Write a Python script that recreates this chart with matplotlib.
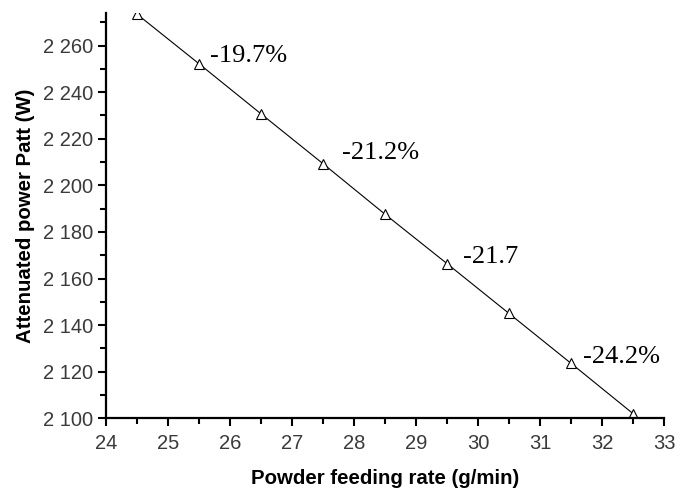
import numpy as np
import matplotlib.pyplot as plt
from matplotlib.ticker import MultipleLocator, FuncFormatter

# data
feed_rate = [24.5, 25.5, 26.5, 27.5, 28.5, 29.5, 30.5, 31.5, 32.5]
power = [2273.5, 2252.2, 2230.7, 2209.3, 2187.6, 2166.4, 2145.0, 2123.6, 2102.0]

labels = ['-19.7%', '-21.2%', '-21.7', '-24.2%']
label_x = [25.68, 27.81, 29.76, 31.69]
label_y = [2255.7, 2214.1, 2169.1, 2126.3]

fig = plt.figure(figsize=(6.91, 4.90), dpi=100)
ax = fig.add_axes([0.1534, 0.1463, 0.8076, 0.8272])

ax.plot(feed_rate, power, color='black', lw=0.8, marker='^', ms=6.5,
        mfc='white', mec='black', mew=0.8)

for t, x, y in zip(labels, label_x, label_y):
    ax.text(x, y, t, fontsize=19, family='Liberation Serif', va='center', ha='left')

ax.set_xlim(24, 33)
ax.set_ylim(2100, 2274)
ax.xaxis.set_major_locator(MultipleLocator(1))
ax.xaxis.set_minor_locator(MultipleLocator(0.5))
ax.yaxis.set_major_locator(MultipleLocator(20))
ax.yaxis.set_minor_locator(MultipleLocator(10))
ax.yaxis.set_major_formatter(FuncFormatter(lambda v, p: f'{int(v):,}'.replace(',', ' ')))

for s in ['top', 'right']:
    ax.spines[s].set_visible(False)
for s in ['left', 'bottom']:
    ax.spines[s].set_linewidth(1.6)

ax.tick_params(which='major', length=6, width=1.5, labelsize=14.5, labelcolor='#3a3a3a', pad=3)
ax.tick_params(which='minor', length=4, width=1.5)
ax.tick_params(axis='x', which='major', pad=5)
for lab in ax.get_xticklabels() + ax.get_yticklabels():
    lab.set_family('Liberation Sans')

ax.set_xlabel('Powder feeding rate (g/min)', fontsize=14.7, fontweight='bold',
              family='Liberation Sans', labelpad=12)
ax.set_ylabel('Attenuated power Patt (W)', fontsize=14.7, fontweight='bold',
              family='Liberation Sans', labelpad=6)

fig.savefig('out.png', dpi=100)
